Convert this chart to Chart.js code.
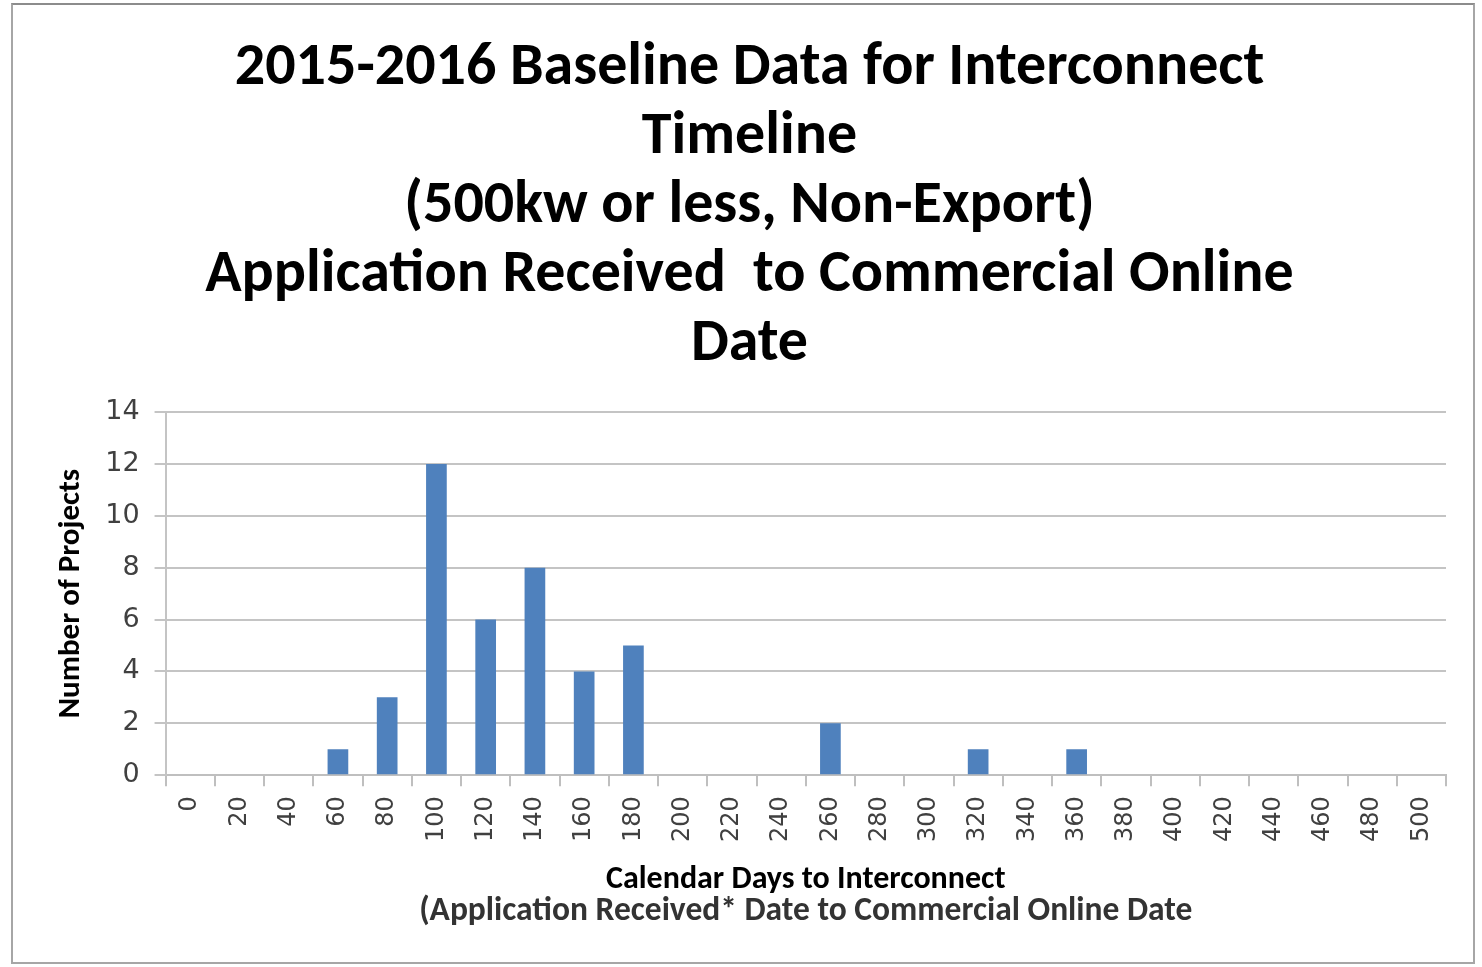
<!DOCTYPE html>
<html>
<head>
<meta charset="utf-8">
<script src="https://cdn.jsdelivr.net/npm/chart.js@4.4.1/dist/chart.umd.min.js"></script>
<style>
  html, body { margin: 0; padding: 0; background: #ffffff; }
  #frame { position: absolute; left: 11px; top: 3px; width: 1464px; height: 961px; border: 2px solid #a6a6a6; border-top-color: #8c8c8c; box-sizing: border-box; background: #fff; }
  #wrap { position: absolute; left: 0; top: 0; width: 1460px; height: 957px; }
</style>
</head>
<body>
<div id="frame"><div id="wrap"><canvas id="c"></canvas></div></div>
<script>
const categories = ["0","20","40","60","80","100","120","140","160","180","200","220","240","260","280","300","320","340","360","380","400","420","440","460","480","500"];
const projectCounts = [0,0,0,1,3,12,6,8,4,5,0,0,0,2,0,0,1,0,1,0,0,0,0,0,0,0];
const yTicks = [0,2,4,6,8,10,12,14];
const titleLines = ["2015-2016 Baseline Data for Interconnect","Timeline","(500kw or less, Non-Export)","Application Received  to Commercial Online","Date"];
const xTitleLine1 = "Calendar Days to Interconnect";
const xTitleLine2 = "(Application Received* Date to Commercial Online Date";
const yTitle = "Number of Projects";

const TITLE_FONT = "Carlito, Lato, 'Open Sans', sans-serif";
const TICK_FONT = "'DejaVu Sans', Verdana, sans-serif";

const xSubtitlePlugin = {
  id: 'xSubtitle',
  afterDraw(chart) {
    const ctx = chart.ctx;
    const area = chart.chartArea;
    const cx = (area.left + area.right) / 2;
    ctx.save();
    ctx.textAlign = 'center';
    ctx.textBaseline = 'middle';
    ctx.fillStyle = '#000';
    ctx.font = "bold 32px " + TITLE_FONT;
    ctx.fillText(xTitleLine1, cx, 880 - 5);
    ctx.fillStyle = '#333333';
    ctx.font = "bold 33.5px " + TITLE_FONT;
    ctx.fillText(xTitleLine2, cx, 912 - 5);
    ctx.restore();
  }
};

new Chart(document.getElementById('c'), {
  type: 'bar',
  data: {
    labels: categories,
    datasets: [{
      data: projectCounts,
      backgroundColor: '#4f81bd',
      borderWidth: 0,
      barPercentage: 0.42,
      categoryPercentage: 1.0
    }]
  },
  options: {
    responsive: true,
    maintainAspectRatio: false,
    animation: false,
    layout: { padding: { left: 40, right: 27, top: 29, bottom: 110 } },
    plugins: {
      legend: { display: false },
      tooltip: { enabled: false },
      title: {
        display: true,
        text: titleLines,
        color: '#000',
        font: { family: TITLE_FONT, size: 60, weight: 'bold', lineHeight: 1.15 },
        padding: { top: 0, bottom: 33 }
      }
    },
    scales: {
      x: {
        offset: true,
        grid: { display: true, offset: true, drawOnChartArea: false, drawTicks: true, tickLength: 11, color: '#bfbfbf', lineWidth: 2 },
        border: { display: true, color: '#bfbfbf', width: 2 },
        ticks: { autoSkip: false, minRotation: 90, maxRotation: 90, padding: 10, color: '#404040', font: { family: TICK_FONT, size: 24 } },
        title: { display: false }
      },
      y: {
        min: 0, max: 14,
        afterBuildTicks(axis) { axis.ticks = yTicks.map(v => ({ value: v })); },
        grid: { color: '#c4c4c4', lineWidth: 2, tickLength: 11 },
        border: { display: true, color: '#c4c4c4', width: 2 },
        ticks: { padding: 15, color: '#404040', font: { family: TICK_FONT, size: 27 } },
        title: { display: true, text: yTitle, color: '#000', font: { family: TITLE_FONT, size: 31, weight: 'bold' }, padding: { top: 0, bottom: 0 } }
      }
    }
  },
  plugins: [xSubtitlePlugin]
});
</script>
</body>
</html>
